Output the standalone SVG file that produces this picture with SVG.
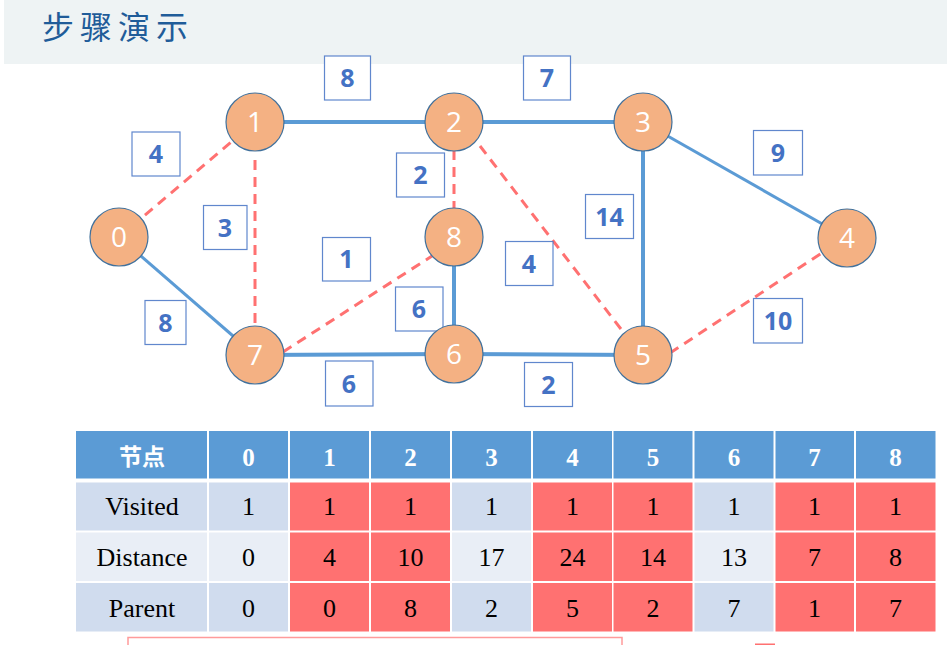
<svg xmlns="http://www.w3.org/2000/svg" width="947" height="645" viewBox="0 0 947 645">
<style>
.solid{stroke:#5B9BD5;stroke-width:4;fill:none}
.thin{stroke-width:3}
.dash{stroke:#FF7171;stroke-width:3;stroke-dasharray:10 7;fill:none}
.node circle{fill:#F4B183;stroke:#41719C;stroke-width:1.2}
.node text{fill:#fff;font-family:"Open Sans","Noto Sans",sans-serif;font-size:28px;text-anchor:middle}
.wl rect{fill:#fff;stroke:#4472C4;stroke-width:1.2;stroke-opacity:0.85}
.wl text{fill:#4472C4;font-family:"Open Sans","Liberation Sans",sans-serif;font-weight:bold;font-size:25px;text-anchor:middle}
.hd{fill:#5B9BD5}
.ca{fill:#D0DCEE}
.cb{fill:#E9EEF6}
.cr{fill:#FF7171}
.ht{fill:#fff;font-family:"Liberation Serif",serif;font-weight:bold;font-size:25px;text-anchor:middle}
.dt{fill:#000;font-family:"Liberation Serif",serif;font-size:26px;text-anchor:middle}
</style>
<rect x="4" y="0" width="943" height="64" fill="#EEF3F4"/>
<text x="42" y="39" font-family="'Noto Sans CJK SC',sans-serif" font-size="32" letter-spacing="6" fill="#1F5C99">步骤演示</text>

<g id="connectors">
<line class="solid" x1="255" y1="122" x2="454" y2="122"/>
<line class="solid" x1="454" y1="122" x2="643" y2="122"/>
<line class="solid" x1="643" y1="122" x2="643" y2="355"/>
<line class="solid thin" x1="643" y1="122" x2="847" y2="238"/>
<line class="solid thin" x1="119" y1="237" x2="255" y2="355"/>
<line class="solid" x1="454" y1="237" x2="454" y2="354"/>
<line class="solid" x1="255" y1="355" x2="454" y2="354"/>
<line class="solid" x1="454" y1="354" x2="643" y2="355"/>
<line class="dash" x1="119" y1="237" x2="255" y2="122"/>
<line class="dash" x1="255" y1="160" x2="255" y2="328"/>
<line class="dash" x1="454" y1="150" x2="454" y2="210"/>
<line class="dash" x1="480" y1="146" x2="624" y2="333"/>
<line class="dash" x1="283" y1="352" x2="432" y2="256"/>
<line class="dash" x1="670" y1="353" x2="840" y2="241"/>
</g>

<g id="weights">
<g class="wl"><rect x="324.5" y="56" width="46" height="44"/><text x="347.5" y="87">8</text></g>
<g class="wl"><rect x="523.5" y="56" width="47" height="44"/><text x="547" y="87">7</text></g>
<g class="wl"><rect x="132" y="132" width="48" height="44"/><text x="156" y="163">4</text></g>
<g class="wl"><rect x="203.5" y="205.5" width="43.5" height="44"/><text x="225" y="236.5">3</text></g>
<g class="wl"><rect x="396.5" y="153" width="48" height="44"/><text x="420.5" y="184">2</text></g>
<g class="wl"><rect x="322.5" y="237.5" width="48" height="43.5"/><text x="346.5" y="268">1</text></g>
<g class="wl"><rect x="505.5" y="241.5" width="47.5" height="44"/><text x="529" y="272.5">4</text></g>
<g class="wl"><rect x="395.5" y="287" width="47.5" height="44"/><text x="419" y="318">6</text></g>
<g class="wl"><rect x="145" y="300.5" width="41" height="44"/><text x="165.5" y="331.5">8</text></g>
<g class="wl"><rect x="325.5" y="361" width="47.5" height="45"/><text x="349" y="392.5">6</text></g>
<g class="wl"><rect x="524.5" y="362.5" width="48" height="44"/><text x="548.5" y="393.5">2</text></g>
<g class="wl"><rect x="585.5" y="194.5" width="48" height="44"/><text x="609.5" y="225.5">14</text></g>
<g class="wl"><rect x="753.5" y="130.5" width="49" height="44.5"/><text x="778" y="162">9</text></g>
<g class="wl"><rect x="753.5" y="298.5" width="49" height="44.5"/><text x="778" y="330">10</text></g>
</g>

<g id="node0" class="node"><circle cx="119" cy="237" r="29"/><text x="119" y="247">0</text></g>
<g id="node1" class="node"><circle cx="255" cy="122" r="29"/><text x="255" y="132">1</text></g>
<g id="node2" class="node"><circle cx="454" cy="122" r="29"/><text x="454" y="132">2</text></g>
<g id="node3" class="node"><circle cx="643" cy="122" r="29"/><text x="643" y="132">3</text></g>
<g id="node4" class="node"><circle cx="847" cy="238" r="29"/><text x="847" y="248">4</text></g>
<g id="node5" class="node"><circle cx="643" cy="355" r="29"/><text x="643" y="365">5</text></g>
<g id="node6" class="node"><circle cx="454" cy="354" r="29"/><text x="454" y="364">6</text></g>
<g id="node7" class="node"><circle cx="255" cy="355" r="29"/><text x="255" y="365">7</text></g>
<g id="node8" class="node"><circle cx="454" cy="237" r="29"/><text x="454" y="247">8</text></g>

<g id="table">
<rect class="hd" x="76" y="431" width="131" height="47.5"/>
<rect class="hd" x="209" y="431" width="79" height="47.5"/>
<rect class="hd" x="290" y="431" width="79" height="47.5"/>
<rect class="hd" x="371" y="431" width="79" height="47.5"/>
<rect class="hd" x="452" y="431" width="79" height="47.5"/>
<rect class="hd" x="533" y="431" width="79" height="47.5"/>
<rect class="hd" x="613.5" y="431" width="79" height="47.5"/>
<rect class="hd" x="694.5" y="431" width="79" height="47.5"/>
<rect class="hd" x="775.5" y="431" width="78.5" height="47.5"/>
<rect class="hd" x="856" y="431" width="79.5" height="47.5"/>

<rect class="ca" x="76" y="482.5" width="131" height="48"/>
<rect class="ca" x="209" y="482.5" width="79" height="48"/>
<rect class="cr" x="290" y="482.5" width="79" height="48"/>
<rect class="cr" x="371" y="482.5" width="79" height="48"/>
<rect class="ca" x="452" y="482.5" width="79" height="48"/>
<rect class="cr" x="533" y="482.5" width="79" height="48"/>
<rect class="cr" x="613.5" y="482.5" width="79" height="48"/>
<rect class="ca" x="694.5" y="482.5" width="79" height="48"/>
<rect class="cr" x="775.5" y="482.5" width="78.5" height="48"/>
<rect class="cr" x="856" y="482.5" width="79.5" height="48"/>

<rect class="cb" x="76" y="532.5" width="131" height="48.5"/>
<rect class="cb" x="209" y="532.5" width="79" height="48.5"/>
<rect class="cr" x="290" y="532.5" width="79" height="48.5"/>
<rect class="cr" x="371" y="532.5" width="79" height="48.5"/>
<rect class="cb" x="452" y="532.5" width="79" height="48.5"/>
<rect class="cr" x="533" y="532.5" width="79" height="48.5"/>
<rect class="cr" x="613.5" y="532.5" width="79" height="48.5"/>
<rect class="cb" x="694.5" y="532.5" width="79" height="48.5"/>
<rect class="cr" x="775.5" y="532.5" width="78.5" height="48.5"/>
<rect class="cr" x="856" y="532.5" width="79.5" height="48.5"/>

<rect class="ca" x="76" y="583" width="131" height="48.5"/>
<rect class="ca" x="209" y="583" width="79" height="48.5"/>
<rect class="cr" x="290" y="583" width="79" height="48.5"/>
<rect class="cr" x="371" y="583" width="79" height="48.5"/>
<rect class="ca" x="452" y="583" width="79" height="48.5"/>
<rect class="cr" x="533" y="583" width="79" height="48.5"/>
<rect class="cr" x="613.5" y="583" width="79" height="48.5"/>
<rect class="ca" x="694.5" y="583" width="79" height="48.5"/>
<rect class="cr" x="775.5" y="583" width="78.5" height="48.5"/>
<rect class="cr" x="856" y="583" width="79.5" height="48.5"/>

<text class="ht" x="142" y="465" style="font-family:'Noto Sans CJK SC',sans-serif;font-size:23px">节点</text>
<text class="ht" x="248.5" y="466">0</text>
<text class="ht" x="329.5" y="466">1</text>
<text class="ht" x="410.5" y="466">2</text>
<text class="ht" x="491.5" y="466">3</text>
<text class="ht" x="572.5" y="466">4</text>
<text class="ht" x="653" y="466">5</text>
<text class="ht" x="734" y="466">6</text>
<text class="ht" x="814.5" y="466">7</text>
<text class="ht" x="895.5" y="466">8</text>

<text class="dt" x="142" y="515">Visited</text>
<text class="dt" x="248.5" y="515">1</text>
<text class="dt" x="329.5" y="515">1</text>
<text class="dt" x="410.5" y="515">1</text>
<text class="dt" x="491.5" y="515">1</text>
<text class="dt" x="572.5" y="515">1</text>
<text class="dt" x="653" y="515">1</text>
<text class="dt" x="734" y="515">1</text>
<text class="dt" x="814.5" y="515">1</text>
<text class="dt" x="895.5" y="515">1</text>

<text class="dt" x="142" y="566">Distance</text>
<text class="dt" x="248.5" y="566">0</text>
<text class="dt" x="329.5" y="566">4</text>
<text class="dt" x="410.5" y="566">10</text>
<text class="dt" x="491.5" y="566">17</text>
<text class="dt" x="572.5" y="566">24</text>
<text class="dt" x="653" y="566">14</text>
<text class="dt" x="734" y="566">13</text>
<text class="dt" x="814.5" y="566">7</text>
<text class="dt" x="895.5" y="566">8</text>

<text class="dt" x="142" y="617">Parent</text>
<text class="dt" x="248.5" y="617">0</text>
<text class="dt" x="329.5" y="617">0</text>
<text class="dt" x="410.5" y="617">8</text>
<text class="dt" x="491.5" y="617">2</text>
<text class="dt" x="572.5" y="617">5</text>
<text class="dt" x="653" y="617">2</text>
<text class="dt" x="734" y="617">7</text>
<text class="dt" x="814.5" y="617">1</text>
<text class="dt" x="895.5" y="617">7</text>
</g>

<rect x="128" y="637.5" width="494" height="20" fill="#fff" stroke="#FF9B9B" stroke-width="1.5"/>
<rect x="755" y="643.5" width="20" height="3" fill="#FF7171"/>
</svg>
